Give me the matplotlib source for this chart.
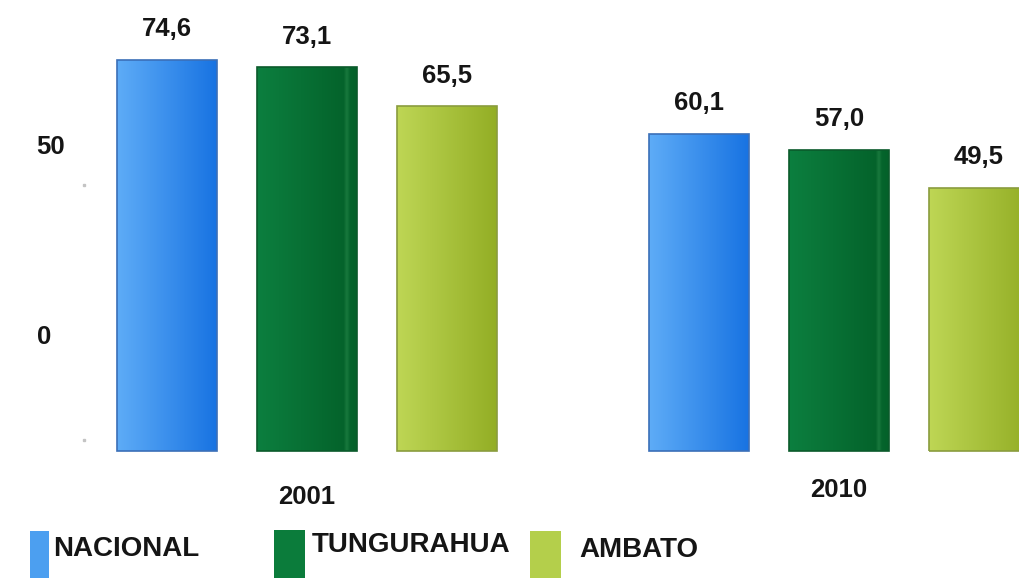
import numpy as np
import matplotlib
matplotlib.use("Agg")
from matplotlib import pyplot as plt
from matplotlib.colors import LinearSegmentedColormap
from matplotlib.patches import Rectangle

# data
years = ["2001", "2010"]
series = ["NACIONAL", "TUNGURAHUA", "AMBATO"]
nacional = [74.6, 60.1]
tungurahua = [73.1, 57.0]
ambato = [65.5, 49.5]
values = [nacional, tungurahua, ambato]
tick_values = [50, 0]
tick_labels = ["50", "0"]

# styling
grad_stops = [
    [(0.0, "#5eacf7"), (1.0, "#1873e2")],
    [(0.0, "#0c7f3f"), (0.87, "#04632b"), (0.9, "#1a7a3e"), (0.93, "#05652c"), (1.0, "#04612a")],
    [(0.0, "#bed655"), (1.0, "#93ae25")],
]
edge_cols = ["#3b6fb8", "#0b5a2b", "#8a9c3e"]
legend_cols = ["#4c9ff0", "#0b7c3b", "#b4cf4b"]
txt_col = "#151515"
font = "Liberation Sans"

fig = plt.figure(figsize=(10.19, 5.78), dpi=100)
ax = fig.add_axes([0, 0, 1, 1])
ax.axis("off")

group_centers = [1.0, 4.8]
width = 0.714
base = -2.1

for s, vals in enumerate(values):
    xs = [g + (s - 1) for g in group_centers]
    heights = [v - base for v in vals]
    bars = ax.bar(xs, heights, bottom=base, width=width,
                  color=legend_cols[s], edgecolor="none", zorder=2)
    # outline on top of the gradient
    ax.bar(xs, heights, bottom=base, width=width, facecolor="none",
           edgecolor=edge_cols[s], linewidth=1.2, zorder=3)
    cmap = LinearSegmentedColormap.from_list("g%d" % s, grad_stops[s])
    grad = np.linspace(0, 1, 256).reshape(1, -1)
    for b, v in zip(bars, vals):
        x0, y0 = b.get_x(), b.get_y()
        im = ax.imshow(grad, extent=[x0, x0 + b.get_width(), y0, y0 + b.get_height()],
                       aspect="auto", cmap=cmap, zorder=2.5, interpolation="bicubic")
        im.set_clip_path(b)
        ax.text(b.get_x() + b.get_width() / 2, v + 3.6, f"{v:.1f}".replace(".", ","),
                ha="center", va="bottom", fontsize=18.5, fontweight="bold",
                family=font, color=txt_col)

# year labels
for g, yr, yy in zip(group_centers, years, [-11.2, -9.8]):
    ax.text(g, yy, yr, ha="center", va="center", fontsize=18.5,
            fontweight="bold", family=font, color=txt_col)

# y labels (displaced from their tick marks, as in the source)
for t, lab, yy in zip(tick_values, tick_labels, [57.5, 20.3]):
    ax.plot([-0.593], [t], marker="s", markersize=1.6, color="#c4c4c4", lw=0)
    ax.text(0.036, yy, lab, transform=ax.get_yaxis_transform(),
            ha="left", va="center", fontsize=18.5, fontweight="bold",
            family=font, color=txt_col)

ax.set_xlim(-167 / 140, (1019 - 167) / 140)
ax.set_ylim((440.3 - 578) / 5.10, 440.3 / 5.10)

# legend drawn by hand
W, H = 1019.0, 578.0
patch_px = [(30, 49, 531), (274, 305, 530), (530, 561, 531)]
text_px = [(53, 549), (312, 545), (579, 550)]
for s in range(3):
    x0, x1, top = patch_px[s]
    fig.patches.append(Rectangle((x0 / W, 0), (x1 - x0) / W, 1 - top / H,
                                 transform=fig.transFigure, facecolor=legend_cols[s],
                                 edgecolor="none"))
    tx, ty = text_px[s]
    fig.text(tx / W, 1 - ty / H, series[s], ha="left", va="center", fontsize=20,
             fontweight="bold", family=font, color=txt_col)

fig.savefig("out.png", dpi=100)
